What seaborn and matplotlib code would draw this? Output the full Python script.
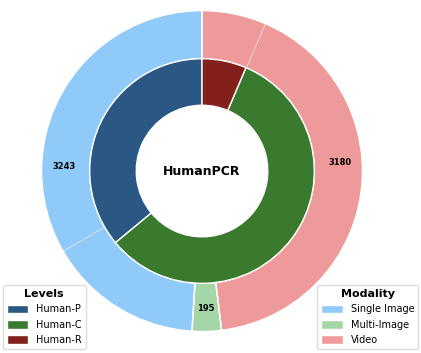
import seaborn as sns
import matplotlib.pyplot as plt
import numpy as np
from matplotlib.patches import Patch

sns.set_style('white')
plt.rcParams['text.color'] = 'black'

# outer ring: modality (split by level inside each modality)
modalities = ['Single Image', 'Multi-Image', 'Video']
modality_counts = [3243, 195, 3180]
outer_parts = [2206, 1037, 195, 2752, 428]
outer_part_modality = ['Single Image', 'Single Image', 'Multi-Image', 'Video', 'Video']

# inner ring: levels
levels = ['Human-P', 'Human-C', 'Human-R']
level_counts = [2383, 3812, 423]

modality_colors = {'Single Image': '#90CAF9', 'Multi-Image': '#A5D6A7', 'Video': '#EF9A9A'}
level_colors = ['#2A5783', '#3A7A2F', '#82211B']

fig = plt.figure(figsize=(4.21, 3.53), dpi=100)
ax = fig.add_axes([0.0986, 0.061, 0.7625, 0.909])

# outer ring, faint lines between the sub parts
ax.pie(outer_parts, radius=1, startangle=90,
       colors=[modality_colors[m] for m in outer_part_modality],
       wedgeprops=dict(width=0.30, edgecolor='#f4f4f4', linewidth=0.3))
# modality borders
ax.pie(modality_counts, radius=1, startangle=90,
       colors=['none'] * 3,
       wedgeprops=dict(width=0.30, edgecolor='white', linewidth=1.0, fill=False))

# inner ring
ax.pie(level_counts, radius=0.70, startangle=90, colors=level_colors,
       wedgeprops=dict(width=0.29, edgecolor='white', linewidth=1.0))

# count labels in the middle of each modality
total = sum(modality_counts)
cum = 0
for m, v in zip(modalities, modality_counts):
    ang = np.deg2rad(90 + 360 * (cum + v / 2) / total)
    ax.text(0.86 * np.cos(ang), 0.86 * np.sin(ang), str(v),
            ha='center', va='center', fontsize=6, fontweight='bold')
    cum += v

ax.text(0, 0, 'HumanPCR', ha='center', va='center', fontsize=9, fontweight='bold')
ax.set_xlim(-1, 1)
ax.set_ylim(-1, 1)
ax.set_aspect('equal')
ax.axis('off')

lev_handles = [Patch(facecolor=c, label=l) for l, c in zip(levels, level_colors)]
leg1 = fig.legend(handles=lev_handles, title='Levels', loc='lower left',
                  bbox_to_anchor=(0.007, 0.012), fontsize=7,
                  title_fontproperties={'weight': 'bold', 'size': 8},
                  handlelength=2.2, handleheight=1.0, borderaxespad=0,
                  labelspacing=0.55, framealpha=1, edgecolor='#dddddd')

mod_handles = [Patch(facecolor=modality_colors[m], label=m) for m in modalities]
leg2 = fig.legend(handles=mod_handles, title='Modality', loc='lower right',
                  bbox_to_anchor=(0.993, 0.012), fontsize=7,
                  title_fontproperties={'weight': 'bold', 'size': 8},
                  handlelength=2.2, handleheight=1.0, borderaxespad=0,
                  labelspacing=0.55, framealpha=1, edgecolor='#dddddd')

fig.savefig('out.png', dpi=100)
